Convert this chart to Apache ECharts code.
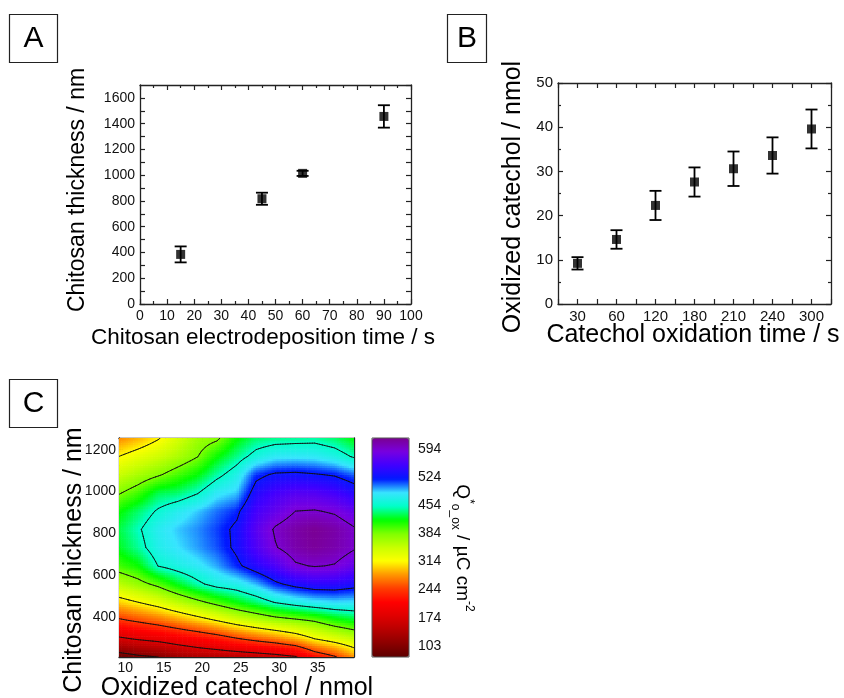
<!DOCTYPE html>
<html><head><meta charset="utf-8">
<script src="https://cdn.jsdelivr.net/npm/echarts@6/dist/echarts.min.js"></script>
<style>html,body{margin:0;padding:0;background:#fff}#c{width:844px;height:698px}</style>
</head><body><div id="c"></div>
<script>
// ---------- Panel A ----------
const depositionTime = [15, 45, 60, 90];
const chitosanThickness = [385, 817, 1014, 1456];
const chitosanThicknessErr = [62, 47, 20, 87];
// ---------- Panel B ----------
const oxidationTimeLabels = ['30', '60', '120', '180', '210', '240', '300'];
const oxidizedCatechol = [9.2, 14.6, 22.3, 27.6, 30.6, 33.6, 39.6];
const oxidizedCatecholErr = [1.4, 2.1, 3.3, 3.3, 3.9, 4.1, 4.4];
// ---------- Panel C ----------
const catecholGrid = [9.2, 11.7, 14.3, 16.8, 19.4, 21.9, 24.5, 27.0, 29.5, 32.1, 34.6, 37.2, 39.7];
const thicknessGrid = [208, 295, 383, 470, 557, 644, 732, 819, 906, 994, 1081, 1168, 1256];
// rows = thicknessGrid (bottom to top), columns = catecholGrid
const chargeGrid = [
  [82, 95, 103, 122, 135, 140, 145, 150, 158, 170, 215, 240, 278],
  [167, 178, 187, 199, 210, 223, 241, 256, 269, 288, 314, 332, 349],
  [238, 250, 263, 279, 297, 315, 336, 352, 367, 377, 388, 408, 421],
  [299, 314, 331, 353, 375, 396, 417, 435, 456, 470, 480, 485, 484],
  [354, 372, 393, 421, 447, 466, 473, 492, 518, 534, 543, 543, 535],
  [400, 415, 455, 468, 480, 495, 518, 540, 560, 590, 596, 592, 575],
  [422, 443, 472, 485, 497, 510, 530, 562, 592, 610, 617, 610, 597],
  [428, 450, 476, 490, 500, 513, 530, 568, 598, 612, 620, 612, 597],
  [415, 435, 458, 475, 490, 505, 518, 556, 575, 594, 596, 590, 575],
  [381, 400, 430, 435, 452, 480, 490, 538, 556, 566, 565, 556, 540],
  [347, 364, 380, 399, 417, 445, 470, 516, 528, 530, 526, 521, 508],
  [314, 330, 345, 362, 383, 415, 440, 465, 480, 482, 480, 470, 450],
  [275, 290, 311, 340, 368, 378, 415, 435, 440, 442, 444, 435, 418]
];
const colorbarTicks = [103, 174, 244, 314, 384, 454, 524, 594];
const contourLevels = [103, 174, 244, 314, 384, 454, 524, 594];
const chargeMin = 76, chargeMax = 622;
const rainbow = ['#5c0000', '#8c0000', '#b80000', '#e00000', '#ff0000', '#ff3c00', '#ff9600', '#ffff00',
  '#c8ff00', '#80ff00', '#00ff00', '#00ffc8', '#38e4ff', '#0018ff', '#4000ff', '#7800e0', '#7a0090'];

const FONT = '"Liberation Sans", Arial, Helvetica, sans-serif';
const AX = '#222';

function hex2rgb(h) { return [1, 3, 5].map(k => parseInt(h.substr(k, 2), 16)); }
const rainbowRGB = rainbow.map(hex2rgb);
function colorOf(v) {
  const n = rainbow.length - 1;
  let t = (v - chargeMin) / (chargeMax - chargeMin) * n;
  t = Math.max(0, Math.min(n, t));
  const i = Math.min(Math.floor(t), n - 1), f = t - i;
  const a = rainbowRGB[i], b = rainbowRGB[i + 1];
  return 'rgb(' + [0, 1, 2].map(k => Math.round(a[k] + (b[k] - a[k]) * f)).join(',') + ')';
}

// cell table built from the grid
const cells = [];
for (let j = 0; j < thicknessGrid.length - 1; j++) {
  for (let i = 0; i < catecholGrid.length - 1; i++) {
    cells.push([catecholGrid[i], thicknessGrid[j], catecholGrid[i + 1], thicknessGrid[j + 1],
      chargeGrid[j][i], chargeGrid[j][i + 1], chargeGrid[j + 1][i], chargeGrid[j + 1][i + 1]]);
  }
}
const SUB = 8;
function bil(v00, v10, v01, v11, s, t) {
  return v00 * (1 - s) * (1 - t) + v10 * s * (1 - t) + v01 * (1 - s) * t + v11 * s * t;
}
function renderShade(params, api) {
  const x0 = api.value(0), y0 = api.value(1), x1 = api.value(2), y1 = api.value(3);
  const v00 = api.value(4), v10 = api.value(5), v01 = api.value(6), v11 = api.value(7);
  const children = [];
  for (let a = 0; a < SUB; a++) {
    for (let b = 0; b < SUB; b++) {
      const v = bil(v00, v10, v01, v11, (a + 0.5) / SUB, (b + 0.5) / SUB);
      const p0 = api.coord([x0 + (x1 - x0) * a / SUB, y0 + (y1 - y0) * b / SUB]);
      const p1 = api.coord([x0 + (x1 - x0) * (a + 1) / SUB, y0 + (y1 - y0) * (b + 1) / SUB]);
      children.push({
        type: 'rect',
        shape: { x: Math.min(p0[0], p1[0]) - 0.3, y: Math.min(p0[1], p1[1]) - 0.3,
          width: Math.abs(p1[0] - p0[0]) + 0.6, height: Math.abs(p1[1] - p0[1]) + 0.6 },
        style: { fill: colorOf(v) }
      });
    }
  }
  return { type: 'group', children };
}
function renderContour(params, api) {
  const x0 = api.value(0), y0 = api.value(1), x1 = api.value(2), y1 = api.value(3);
  const v00 = api.value(4), v10 = api.value(5), v01 = api.value(6), v11 = api.value(7);
  const V = [], P = [];
  for (let a = 0; a <= SUB; a++) {
    V.push([]); P.push([]);
    for (let b = 0; b <= SUB; b++) {
      V[a].push(bil(v00, v10, v01, v11, a / SUB, b / SUB));
      P[a].push(api.coord([x0 + (x1 - x0) * a / SUB, y0 + (y1 - y0) * b / SUB]));
    }
  }
  const children = [];
  const seg = (p, q) => children.push({ type: 'line', shape: { x1: p[0], y1: p[1], x2: q[0], y2: q[1] },
    style: { stroke: '#111', lineWidth: 0.9, lineCap: 'round' } });
  const cross = (pa, va, pb, vb, L) => {
    const f = (L - va) / (vb - va);
    return [pa[0] + (pb[0] - pa[0]) * f, pa[1] + (pb[1] - pa[1]) * f];
  };
  for (let a = 0; a < SUB; a++) {
    for (let b = 0; b < SUB; b++) {
      const c = [[P[a][b], V[a][b]], [P[a + 1][b], V[a + 1][b]], [P[a + 1][b + 1], V[a + 1][b + 1]], [P[a][b + 1], V[a][b + 1]]];
      for (const L of contourLevels) {
        const up = c.map(k => k[1] >= L);
        const pts = [];
        for (let e = 0; e < 4; e++) {
          const A = c[e], B = c[(e + 1) % 4];
          if (up[e] !== up[(e + 1) % 4]) pts.push(cross(A[0], A[1], B[0], B[1], L));
          else pts.push(null);
        }
        const got = pts.filter(p => p);
        if (got.length === 2) seg(got[0], got[1]);
        else if (got.length === 4) {
          const cen = (c[0][1] + c[1][1] + c[2][1] + c[3][1]) / 4 >= L;
          if (cen === up[0]) { seg(pts[0], pts[1]); seg(pts[2], pts[3]); }
          else { seg(pts[3], pts[0]); seg(pts[1], pts[2]); }
        }
      }
    }
  }
  return { type: 'group', children };
}
function renderErr(params, api) {
  const lo = api.coord([api.value(0), api.value(1)]);
  const hi = api.coord([api.value(0), api.value(2)]);
  const w = 6, st = { stroke: '#000', lineWidth: 1.8 };
  return { type: 'group', children: [
    { type: 'line', shape: { x1: lo[0], y1: lo[1], x2: hi[0], y2: hi[1] }, style: st },
    { type: 'line', shape: { x1: lo[0] - w, y1: lo[1], x2: lo[0] + w, y2: lo[1] }, style: st },
    { type: 'line', shape: { x1: hi[0] - w, y1: hi[1], x2: hi[0] + w, y2: hi[1] }, style: st }
  ] };
}

const line = { show: true, onZero: false, lineStyle: { color: AX, width: 1.3 } };
const tickIn = (len) => ({ show: true, inside: true, length: len, lineStyle: { color: AX, width: 1.2 } });
const minor = { show: true, splitNumber: 2, length: 3, lineStyle: { color: AX, width: 1.2 } };
const noSplit = { show: false };
const lbl = (size, margin) => ({ fontSize: size, color: '#111', fontFamily: FONT, margin: margin });
const plain = v => String(v);

const option = {
  animation: false,
  backgroundColor: '#fff',
  textStyle: { fontFamily: FONT },
  grid: [
    { left: 140, top: 85, width: 271, height: 219 },
    { left: 558, top: 83, width: 273, height: 221 },
    { left: 119, top: 438, width: 235, height: 219 },
    { left: 372, top: 438, width: 37, height: 219 }
  ],
  xAxis: [
    { gridIndex: 0, type: 'value', position: 'bottom', min: 0, max: 100, interval: 10,
      axisLine: line, axisTick: tickIn(5), minorTick: minor, splitLine: noSplit, axisLabel: lbl(14, 5) },
    { gridIndex: 0, type: 'value', position: 'top', min: 0, max: 100, interval: 10,
      axisLine: line, axisTick: tickIn(5), minorTick: minor, splitLine: noSplit, axisLabel: { show: false } },
    { gridIndex: 1, type: 'value', position: 'bottom', min: 0.5, max: 7.5, interval: 0.5,
      axisLine: line, axisTick: tickIn(5), splitLine: noSplit,
      axisLabel: Object.assign(lbl(15, 5), { showMinLabel: true, showMaxLabel: true, formatter: function (v) {
        const k = Math.round(v * 2) / 2;
        return (Number.isInteger(k) && k >= 1 && k <= oxidationTimeLabels.length) ? oxidationTimeLabels[k - 1] : '';
      } }) },
    { gridIndex: 1, type: 'value', position: 'top', min: 0.5, max: 7.5, interval: 0.5,
      axisLine: line, axisTick: tickIn(5), splitLine: noSplit, axisLabel: { show: false } },
    { gridIndex: 2, type: 'value', position: 'bottom', min: 9.2, max: 39.7,
      axisLine: line, splitLine: noSplit,
      axisTick: Object.assign(tickIn(4), { customValues: [10, 12.5, 15, 17.5, 20, 22.5, 25, 27.5, 30, 32.5, 35, 37.5] }),
      axisLabel: Object.assign(lbl(14, 4), { customValues: [10, 15, 20, 25, 30, 35], formatter: plain }) },
    { gridIndex: 2, type: 'value', position: 'top', min: 9.2, max: 39.7,
      axisLine: line, splitLine: noSplit,
      axisTick: Object.assign(tickIn(4), { customValues: [10, 12.5, 15, 17.5, 20, 22.5, 25, 27.5, 30, 32.5, 35, 37.5] }),
      axisLabel: { show: false } },
    { gridIndex: 3, type: 'value', min: 0, max: 1, show: false }
  ],
  yAxis: [
    { gridIndex: 0, type: 'value', position: 'left', min: 0, max: 1700, interval: 100,
      axisLine: line, axisTick: tickIn(5), splitLine: noSplit,
      axisLabel: Object.assign(lbl(14, 5), { showMaxLabel: false, formatter: v => (v % 200 === 0 ? String(v) : '') }) },
    { gridIndex: 0, type: 'value', position: 'right', min: 0, max: 1700, interval: 100,
      axisLine: line, axisTick: tickIn(5), splitLine: noSplit, axisLabel: { show: false } },
    { gridIndex: 1, type: 'value', position: 'left', min: 0, max: 50, interval: 10,
      axisLine: line, axisTick: tickIn(5), minorTick: minor, splitLine: noSplit, axisLabel: lbl(15, 5) },
    { gridIndex: 1, type: 'value', position: 'right', min: 0, max: 50, interval: 10,
      axisLine: line, axisTick: tickIn(5), minorTick: minor, splitLine: noSplit, axisLabel: { show: false } },
    { gridIndex: 2, type: 'value', position: 'left', min: 208, max: 1256,
      axisLine: line, splitLine: noSplit,
      axisTick: Object.assign(tickIn(4), { customValues: [300, 400, 500, 600, 700, 800, 900, 1000, 1100, 1200] }),
      axisLabel: Object.assign(lbl(14, 3), { customValues: [400, 600, 800, 1000, 1200], formatter: plain }) },
    { gridIndex: 2, type: 'value', position: 'right', min: 208, max: 1256,
      axisLine: line, splitLine: noSplit,
      axisTick: Object.assign(tickIn(4), { customValues: [300, 400, 500, 600, 700, 800, 900, 1000, 1100, 1200] }),
      axisLabel: { show: false } },
    { gridIndex: 3, type: 'value', position: 'right', min: chargeMin, max: chargeMax,
      axisLine: { show: false }, splitLine: noSplit,
      axisTick: { show: true, inside: false, length: 4, customValues: colorbarTicks, lineStyle: { color: AX, width: 1.2 } },
      axisLabel: Object.assign(lbl(14, 9), { customValues: colorbarTicks, formatter: plain }) }
  ],
  visualMap: {
    type: 'continuous', min: chargeMin, max: chargeMax, orient: 'vertical',
    left: 372, top: 438, itemWidth: 37, itemHeight: 219, padding: 0,
    calculable: false, hoverLink: false, seriesIndex: 4, dimension: 7,
    inRange: { color: rainbow }, textStyle: { color: 'transparent' }
  },
  series: [
    { type: 'custom', xAxisIndex: 0, yAxisIndex: 0, renderItem: renderErr, z: 3,
      data: depositionTime.map((t, i) => [t, chitosanThickness[i] - chitosanThicknessErr[i], chitosanThickness[i] + chitosanThicknessErr[i]]) },
    { type: 'scatter', xAxisIndex: 0, yAxisIndex: 0, symbol: 'rect', symbolSize: 9, z: 4,
      itemStyle: { color: '#000' }, data: depositionTime.map((t, i) => [t, chitosanThickness[i]]) },
    { type: 'custom', xAxisIndex: 2, yAxisIndex: 2, renderItem: renderErr, z: 3,
      data: oxidizedCatechol.map((v, i) => [i + 1, v - oxidizedCatecholErr[i], v + oxidizedCatecholErr[i]]) },
    { type: 'scatter', xAxisIndex: 2, yAxisIndex: 2, symbol: 'rect', symbolSize: 9, z: 4,
      itemStyle: { color: '#000' }, data: oxidizedCatechol.map((v, i) => [i + 1, v]) },
    { type: 'custom', xAxisIndex: 4, yAxisIndex: 4, renderItem: renderShade, clip: true, z: 1,
      silent: true, data: cells },
    { type: 'custom', xAxisIndex: 4, yAxisIndex: 4, renderItem: renderContour, clip: true, z: 2,
      silent: true, data: cells }
  ],
  graphic: [
    { type: 'rect', z: 100, shape: { x: 9.5, y: 14.5, width: 48, height: 48 }, style: { fill: 'none', stroke: '#222', lineWidth: 1.2 } },
    { type: 'text', z: 100, x: 33.5, y: 39, style: { text: 'A', fontSize: 30, fontFamily: FONT, fill: '#000', align: 'center', verticalAlign: 'middle' } },
    { type: 'rect', z: 100, shape: { x: 447.5, y: 14.5, width: 39, height: 48 }, style: { fill: 'none', stroke: '#222', lineWidth: 1.2 } },
    { type: 'text', z: 100, x: 467, y: 39, style: { text: 'B', fontSize: 30, fontFamily: FONT, fill: '#000', align: 'center', verticalAlign: 'middle' } },
    { type: 'rect', z: 100, shape: { x: 9.5, y: 379.5, width: 48, height: 48 }, style: { fill: 'none', stroke: '#222', lineWidth: 1.2 } },
    { type: 'text', z: 100, x: 33.5, y: 404, style: { text: 'C', fontSize: 30, fontFamily: FONT, fill: '#000', align: 'center', verticalAlign: 'middle' } },
    { type: 'text', z: 100, x: 78, y: 190, rotation: Math.PI / 2, style: { text: 'Chitosan thickness / nm', fontSize: 23, fontFamily: FONT, fill: '#000', align: 'center', verticalAlign: 'middle' } },
    { type: 'text', z: 100, x: 263, y: 338, style: { text: 'Chitosan electrodeposition time / s', fontSize: 22.5, fontFamily: FONT, fill: '#000', align: 'center', verticalAlign: 'middle' } },
    { type: 'text', z: 100, x: 513, y: 197, rotation: Math.PI / 2, style: { text: 'Oxidized catechol / nmol', fontSize: 25, fontFamily: FONT, fill: '#000', align: 'center', verticalAlign: 'middle' } },
    { type: 'text', z: 100, x: 693, y: 335, style: { text: 'Catechol oxidation time / s', fontSize: 25, fontFamily: FONT, fill: '#000', align: 'center', verticalAlign: 'middle' } },
    { type: 'text', z: 100, x: 74, y: 560, rotation: Math.PI / 2, style: { text: 'Chitosan thickness / nm', fontSize: 25, fontFamily: FONT, fill: '#000', align: 'center', verticalAlign: 'middle' } },
    { type: 'text', z: 100, x: 237, y: 688, style: { text: 'Oxidized catechol / nmol', fontSize: 25, fontFamily: FONT, fill: '#000', align: 'center', verticalAlign: 'middle' } },
    { type: 'rect', z: 100, shape: { x: 372, y: 438, width: 37, height: 219 }, style: { fill: 'none', stroke: '#555', lineWidth: 1 } },
    { type: 'text', z: 100, x: 462, y: 548, rotation: -Math.PI / 2,
      style: { text: '{m|Q}{sup|*}{sub|o_ox}{m| / \u00b5C cm}{sup|-2}', align: 'center', verticalAlign: 'middle',
        rich: {
          m: { fontSize: 19, fontFamily: FONT, fill: '#000', lineHeight: 26, verticalAlign: 'middle' },
          sup: { fontSize: 12, fontFamily: FONT, fill: '#000', verticalAlign: 'top' },
          sub: { fontSize: 12, fontFamily: FONT, fill: '#000', verticalAlign: 'bottom' }
        } } }
  ]
};
const chart = echarts.init(document.getElementById('c'), null, { renderer: 'canvas' });
chart.setOption(option);
</script></body></html>
